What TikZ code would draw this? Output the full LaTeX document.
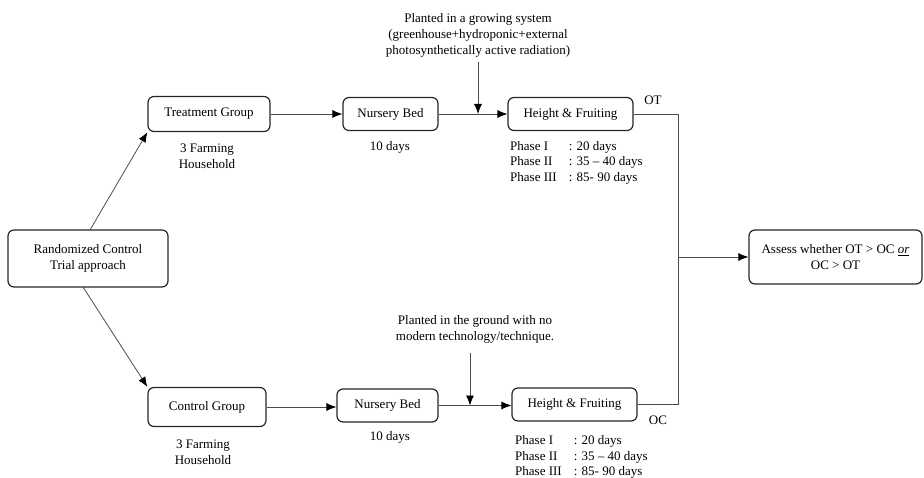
\documentclass[tikz,border=0pt]{standalone}
\usepackage{fontspec}
\setmainfont{Liberation Serif}
\usetikzlibrary{arrows.meta}
\begin{document}
\begin{tikzpicture}[x=1pt,y=-1pt,
  box/.style={draw=black!85,line width=1.2pt,rounded corners=6pt,align=center,inner sep=0pt,font=\fontsize{13}{16}\selectfont},
  lbl/.style={align=center,inner sep=0pt,font=\fontsize{13}{16}\selectfont},
  conn/.style={draw=black!70,line width=0.8pt},
  arr/.style={conn,-{Latex[length=10pt,width=8pt,color=black]}}]
\useasboundingbox (0,0) rectangle (924,478);
% boxes
\node[box,minimum width=160,minimum height=57] (rct) at (88,258.5) {Randomized Control\\Trial approach};
\node[box,minimum width=122,minimum height=35] (tg) at (209,114) {Treatment Group};
\node[box,minimum width=95,minimum height=33] (nb1) at (390.5,114) {Nursery Bed};
\node[box,minimum width=125,minimum height=33] (hf1) at (570.5,114) {Height \& Fruiting};
\node[box,minimum width=118,minimum height=39] (cg) at (207,407) {Control Group};
\node[box,minimum width=101,minimum height=33] (nb2) at (387.5,405.5) {Nursery Bed};
\node[box,minimum width=125,minimum height=33] (hf2) at (574.5,404.5) {Height \& Fruiting};
\node[box,minimum width=173,minimum height=54] (as) at (835.5,257) {Assess whether OT > OC \underline{\emph{or}}\\OC > OT};
% labels
\node[lbl] (tgl) at (207,156.5) {3 Farming\\Household};
\node[lbl] (cgl) at (203,452) {3 Farming\\Household};
\node[lbl] (nb1l) at (390,147) {10 days};
\node[lbl] (nb2l) at (390,437) {10 days};
\node[lbl] (top) at (478,35.5) {Planted in a growing system\\(greenhouse+hydroponic+external\\photosynthetically active radiation)};
\node[lbl] (bot) at (475,329.5) {Planted in the ground with no\\modern technology/technique.};
\node[lbl] (ot) at (653,100) {OT};
\node[lbl] (oc) at (658,420) {OC};
\node[lbl,anchor=west,font=\fontsize{13}{15.5}\selectfont] (ph1) at (510,162.5) {\begin{tabular}{@{}l@{\hspace{12pt}}l@{}}Phase I & : 20 days\\Phase II & : 35 -- 40 days\\Phase III & : 85- 90 days\end{tabular}};
\node[lbl,anchor=west,font=\fontsize{13}{15.5}\selectfont] (ph2) at (515,457) {\begin{tabular}{@{}l@{\hspace{12pt}}l@{}}Phase I & : 20 days\\Phase II & : 35 -- 40 days\\Phase III & : 85- 90 days\end{tabular}};
% coordinates
\coordinate (t1) at (478,62);
\coordinate (t2) at (470,353);
\coordinate (ja) at (678,114);
\coordinate (jb) at (678,404.5);
\coordinate (jm) at (678,257);
\coordinate (r1) at (90,230);
\coordinate (r2) at (83,287);
% connectors
\draw[arr] (r1) -- (tg.south west);
\draw[arr] (r2) -- (cg.north west);
\draw[arr] (tg.east) -- (nb1.west);
\draw[arr] (nb1.east) -- (hf1.west);
\draw[arr] (t1) -- (t1 |- nb1.east);
\draw[arr] (cg.east) -- (cg.east -| nb2.west);
\draw[arr] (nb2.east) -- (nb2.east -| hf2.west);
\draw[arr] (t2) -- (t2 |- nb2.east);
\draw[conn] (hf1.east) -- (ja) -- (jb) -- (hf2.east);
\draw[arr] (jm) -- (as.west);
\end{tikzpicture}
\end{document}
